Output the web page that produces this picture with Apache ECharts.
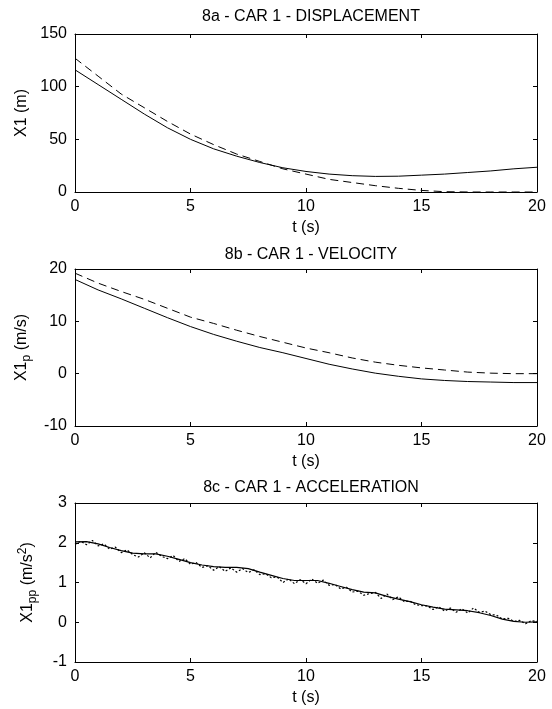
<!DOCTYPE html>
<html>
<head>
<meta charset="utf-8">
<script src="https://cdn.jsdelivr.net/npm/echarts@6/dist/echarts.min.js"></script>
<style>
html,body{margin:0;padding:0;background:#fff;}
#chart{width:552px;height:709px;}
</style>
</head>
<body>
<div id="chart"></div>
<script>
// ---- data ----
const titles = ['8a - CAR 1 - DISPLACEMENT', '8b - CAR 1 - VELOCITY', '8c - CAR 1 - ACCELERATION'];
const xTicks = [0, 5, 10, 15, 20];
const yTicks1 = [0, 50, 100, 150];
const yTicks2 = [-10, 0, 10, 20];
const yTicks3 = [-1, 0, 1, 2, 3];

// time grid (s) for displacement and velocity, step 1 s
const tSec = [0,1,2,3,4,5,6,7,8,9,10,11,12,13,14,15,16,17,18,19,20];
// displacement X1 (m)
const dispSolid  = [116,102,88,74,61,50,41,34,28,23,19.5,17,15.5,14.8,15,16,17,18.5,20,22,23.5];
const dispDashed = [127,110,93,80,67,55,45,36,29,22,17,12,9,6,3.5,1.5,0.3,0,0,0,0];
// velocity X1p (m/s)
const velSolid  = [18,16,14.3,12.5,10.7,9,7.5,6.2,5,4,2.9,1.8,0.9,0.1,-0.5,-1,-1.3,-1.5,-1.6,-1.7,-1.7];
const velDashed = [19.2,17.3,15.7,14.2,12.5,10.8,9.6,8.3,7.1,6,4.9,4,3,2.2,1.6,1.1,0.7,0.3,0.1,0,0];
// acceleration X1pp (m/s^2)
const tHalf = [0,0.5,1,1.5,2,2.5,3,3.5,4,4.5,5,5.5,6,6.5,7,7.5,8,8.5,9,9.5,10,10.5,11,11.5,12,12.5,13,13.5,14,14.5,15,15.5,16,16.5,17,17.5,18,18.5,19,19.5,20];
const accSolid = [2.02,2.03,1.97,1.88,1.80,1.74,1.72,1.72,1.66,1.58,1.50,1.44,1.40,1.38,1.38,1.35,1.26,1.18,1.10,1.05,1.05,1.05,0.98,0.90,0.82,0.76,0.74,0.65,0.58,0.52,0.44,0.38,0.33,0.31,0.29,0.24,0.17,0.08,0.02,0.00,0.01];
const tQuarter = [0,0.25,0.5,0.75,1,1.25,1.5,1.75,2,2.25,2.5,2.75,3,3.25,3.5,3.75,4,4.25,4.5,4.75,5,5.25,5.5,5.75,6,6.25,6.5,6.75,7,7.25,7.5,7.75,8,8.25,8.5,8.75,9,9.25,9.5,9.75,10,10.25,10.5,10.75,11,11.25,11.5,11.75,12,12.25,12.5,12.75,13,13.25,13.5,13.75,14,14.25,14.5,14.75,15,15.25,15.5,15.75,16,16.25,16.5,16.75,17,17.25,17.5,17.75,18,18.25,18.5,18.75,19,19.25,19.5,19.75,20];
const accDotted = [1.96,2.04,1.95,2.06,1.92,1.97,1.84,1.89,1.75,1.82,1.70,1.64,1.75,1.62,1.76,1.66,1.60,1.68,1.53,1.60,1.46,1.50,1.38,1.42,1.31,1.40,1.28,1.37,1.26,1.35,1.25,1.32,1.20,1.22,1.12,1.14,1.00,1.09,0.97,1.07,0.97,1.09,0.98,1.06,0.93,0.95,0.84,0.88,0.76,0.78,0.68,0.72,0.75,0.60,0.71,0.57,0.64,0.52,0.53,0.44,0.42,0.41,0.32,0.39,0.28,0.36,0.25,0.34,0.23,0.36,0.25,0.28,0.19,0.18,0.08,0.10,0.02,0.05,-0.04,0.04,0.02];

// ---- chart ----
const FONT = "'Liberation Sans', Arial, sans-serif";
const chart = echarts.init(document.getElementById('chart'), null, {renderer: 'canvas'});

const grids = [
  {left: 75, right: 15, top: 34, height: 158},
  {left: 75, right: 15, top: 269, height: 157},
  {left: 75, right: 15, top: 503, height: 159}
];
const yRanges = [
  {min: yTicks1[0], max: yTicks1[yTicks1.length-1], interval: 50},
  {min: yTicks2[0], max: yTicks2[yTicks2.length-1], interval: 10},
  {min: yTicks3[0], max: yTicks3[yTicks3.length-1], interval: 1}
];
const yNames = [
  '{n|X1 (m)}',
  '{n|X1}{s|p}{n| (m/s)}',
  '{n|X1}{s|pp}{n| (m/s}{u|2}{n|)}'
];
const rich = {
  n: {fontFamily: FONT, fontSize: 16, color: '#000', lineHeight: 22, verticalAlign: 'middle'},
  s: {fontFamily: FONT, fontSize: 12, color: '#000', lineHeight: 10, verticalAlign: 'bottom'},
  u: {fontFamily: FONT, fontSize: 12, color: '#000', lineHeight: 10, verticalAlign: 'top'}
};

const xAxes = [], yAxes = [];
for (let i = 0; i < 3; i++) {
  xAxes.push({
    type: 'value', gridIndex: i, min: xTicks[0], max: xTicks[xTicks.length-1], interval: 5,
    position: 'bottom',
    name: 't (s)', nameLocation: 'middle', nameGap: 28,
    nameTextStyle: {fontFamily: FONT, fontSize: 16, color: '#000'},
    axisLine: {show: true, onZero: false, lineStyle: {color: '#000', width: 1}},
    axisTick: {show: true, inside: true, length: 4, lineStyle: {color: '#000'}},
    axisLabel: {fontFamily: FONT, fontSize: 16, color: '#000', margin: 7, showMinLabel: true, showMaxLabel: true, hideOverlap: false},
    splitLine: {show: false}
  });
  xAxes.push({
    type: 'value', gridIndex: i, min: xTicks[0], max: xTicks[xTicks.length-1], interval: 5,
    position: 'top',
    axisLine: {show: true, onZero: false, lineStyle: {color: '#000', width: 1}},
    axisTick: {show: true, inside: true, length: 4, lineStyle: {color: '#000'}},
    axisLabel: {show: false}, splitLine: {show: false}
  });
  yAxes.push({
    type: 'value', gridIndex: i, min: yRanges[i].min, max: yRanges[i].max, interval: yRanges[i].interval,
    position: 'left',
    name: yNames[i], nameLocation: 'middle', nameGap: 36, nameRotate: 90,
    nameTextStyle: {rich: rich},
    axisLine: {show: true, onZero: false, lineStyle: {color: '#000', width: 1}},
    axisTick: {show: true, inside: true, length: 4, lineStyle: {color: '#000'}},
    axisLabel: {fontFamily: FONT, fontSize: 16, color: '#000', margin: 8, showMinLabel: true, showMaxLabel: true, hideOverlap: false},
    splitLine: {show: false}
  });
  yAxes.push({
    type: 'value', gridIndex: i, min: yRanges[i].min, max: yRanges[i].max, interval: yRanges[i].interval,
    position: 'right',
    axisLine: {show: true, onZero: false, lineStyle: {color: '#000', width: 1}},
    axisTick: {show: true, inside: true, length: 4, lineStyle: {color: '#000'}},
    axisLabel: {show: false}, splitLine: {show: false}
  });
}

function pairs(xs, ys) { return xs.map((x, k) => [x, ys[k]]); }
function lineSeries(g, xs, ys, type, w) {
  return {
    type: 'line', xAxisIndex: g * 2, yAxisIndex: g * 2, data: pairs(xs, ys),
    showSymbol: false, symbol: 'none', smooth: false, animation: false, silent: true,
    lineStyle: {color: '#000', width: w || 1, type: type}
  };
}

const option = {
  backgroundColor: '#fff',
  animation: false,
  textStyle: {fontFamily: FONT},
  title: titles.map((t, i) => ({
    text: t, left: 306, textAlign: 'center', top: [4, 242, 475][i],
    textStyle: {fontFamily: FONT, fontSize: 16, fontWeight: 'normal', color: '#000'}
  })),
  grid: grids.map(g => Object.assign({outerBoundsMode: 'none', containLabel: false}, g)),
  xAxis: xAxes,
  yAxis: yAxes,
  series: [
    lineSeries(0, tSec, dispSolid, 'solid'),
    lineSeries(0, tSec, dispDashed, [8, 5]),
    lineSeries(1, tSec, velSolid, 'solid'),
    lineSeries(1, tSec, velDashed, [8, 5]),
    lineSeries(2, tHalf, accSolid, 'solid', 1.2),
    lineSeries(2, tQuarter, accDotted, [2, 2], 1.2)
  ]
};
chart.setOption(option);
</script>
</body>
</html>
